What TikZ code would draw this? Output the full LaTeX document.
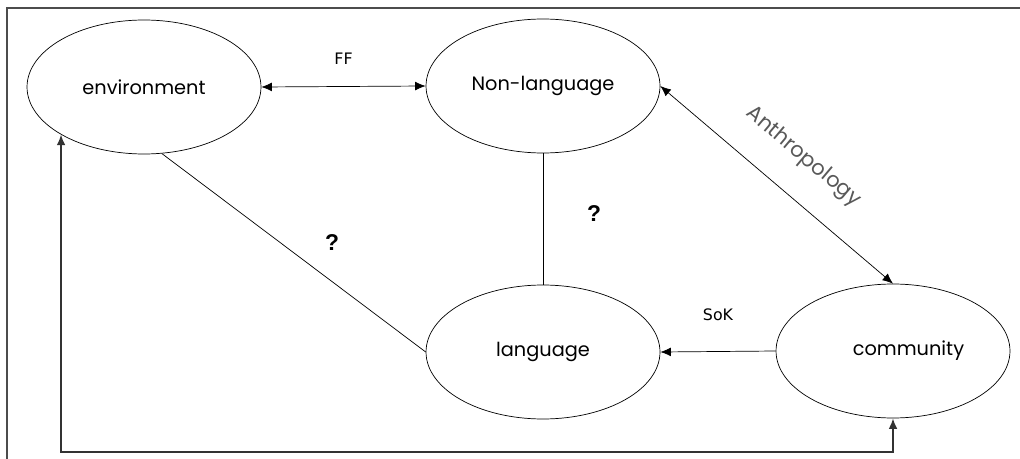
\documentclass[tikz,border=0pt]{standalone}
\usepackage{fontspec}
\setmainfont{Poppins}
\newfontfamily\labfont{DejaVu Sans}
\newfontfamily\qfont{Liberation Sans}
\usetikzlibrary{shapes.geometric, arrows.meta}

\tikzset{
  ell/.style = {draw, ellipse, minimum width=4.68cm, minimum height=2.68cm, font=\fontsize{11}{13}\selectfont},
  qmark/.style = {font=\qfont\bfseries\fontsize{13}{15}\selectfont},
  lab/.style = {font=\labfont\fontsize{9}{11}\selectfont}
}

\begin{document}
\begin{tikzpicture}[x=0.02cm, y=-0.02cm, >={Latex[length=6pt, width=5pt]}, thin]

\useasboundingbox (0, 0) rectangle (1020, 459);

% frame
\draw[gray!60!black, line width=1pt] (7, 459) -- (7, 8) -- (1020, 8);

\node[ell] (env) at (144, 87) {environment};
\node[ell] (nonlang) at (543, 86) {Non-language};
\node[ell] (lang) at (543, 352) {language};
\node[ell] (comm) at (893, 351) {\hspace{1.6em}community};

\draw[<->] (env.east) -- (nonlang.west) node[midway, above=9pt, lab] {FF};
\draw (nonlang.south) -- (lang.north);
\draw (env.-75) -- (lang.west);
\draw[<->] (nonlang.east) -- (comm.north);
\draw[->] (comm.west) -- (lang.east) node[midway, above=14pt, lab] {SoK};

\coordinate (bot) at (62, 452);
\draw[<->, gray!40!black, line width=1pt] (env.south west) -- (env.south west |- bot) -| (comm.south);

\node[qmark] (q1) at (332, 243) {?};
\node[qmark] (q2) at (594, 214) {?};
\node[font=\fontsize{12}{14}\selectfont, gray!70!black, rotate=-40] (anth) at (803, 157) {Anthropology};

\end{tikzpicture}
\end{document}
